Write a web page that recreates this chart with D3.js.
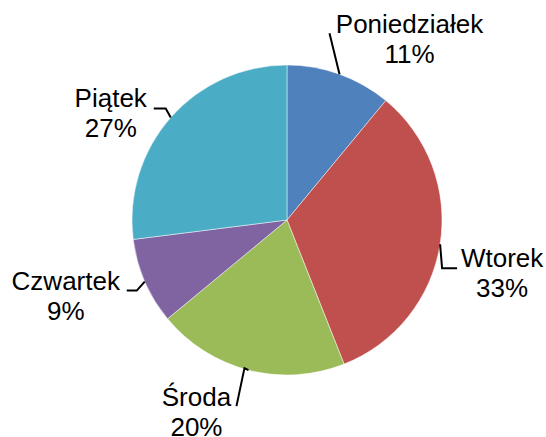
<!DOCTYPE html>
<html>
<head>
<meta charset="utf-8">
<script src="https://cdn.jsdelivr.net/npm/d3@7"></script>
<style>
  html, body { margin: 0; padding: 0; background: #fff; }
  text { font-family: "Liberation Sans", Arial, sans-serif; }
</style>
</head>
<body>
<div id="chart"></div>
<script>
// data
var days = ["Poniedziałek", "Wtorek", "Środa", "Czwartek", "Piątek"];
var values = [11, 33, 20, 9, 27];
var colors = ["#4F81BD", "#C0504D", "#9BBB59", "#8064A2", "#4BACC6"];

// label layout, relative to the point where the leader line leaves the slice
var labelOffset = [[70, -41], [62, 23], [-52, 36], [-79, 8], [-60, -10]];
var leaderPath = [
  [[0, 0], [-10, -41]],
  [[0, 0], [2, 24], [17, 24]],
  [[0, 0], [-4, -2], [-12, 36]],
  [[0, 0], [-8, 9], [-18, 9]],
  [[0, 0], [-5, -9], [-17, -9]]
];

var width = 546, height = 437;
var cx = 287, cy = 220, radius = 155;

var svg = d3.select("#chart").append("svg")
    .attr("width", width)
    .attr("height", height);

var g = svg.append("g")
    .attr("transform", "translate(" + cx + "," + cy + ")");

var total = d3.sum(values);
var pie = d3.pie().sort(null).value(function(d) { return d; });
var arcs = pie(values);

var arc = d3.arc().innerRadius(0).outerRadius(radius);

g.selectAll("path.slice")
    .data(arcs)
  .enter().append("path")
    .attr("class", "slice")
    .attr("d", arc)
    .attr("fill", function(d, i) { return colors[i]; })
    .attr("stroke", "#ffffff")
    .attr("stroke-opacity", 0.6)
    .attr("stroke-width", 0.8);

// point on the rim at the middle of each slice
function rimPoint(d) {
  var a = (d.startAngle + d.endAngle) / 2;
  return [radius * Math.sin(a), -radius * Math.cos(a)];
}

var line = d3.line();

g.selectAll("path.leader")
    .data(arcs)
  .enter().append("path")
    .attr("class", "leader")
    .attr("fill", "none")
    .attr("stroke", "#000")
    .attr("stroke-width", 2)
    .attr("d", function(d, i) {
      var p = rimPoint(d);
      return line(leaderPath[i].map(function(o) { return [p[0] + o[0], p[1] + o[1]]; }));
    });

var labels = g.selectAll("text.label")
    .data(arcs)
  .enter().append("text")
    .attr("class", "label")
    .attr("text-anchor", "middle")
    .attr("font-size", "26px")
    .attr("fill", "#000")
    .attr("transform", function(d, i) {
      var p = rimPoint(d);
      return "translate(" + (p[0] + labelOffset[i][0]) + "," + (p[1] + labelOffset[i][1]) + ")";
    });

labels.append("tspan")
    .attr("x", 0)
    .attr("y", 0)
    .text(function(d, i) { return days[i]; });

labels.append("tspan")
    .attr("x", 0)
    .attr("y", 30)
    .text(function(d) { return Math.round(d.value / total * 100) + "%"; });
</script>
</body>
</html>
